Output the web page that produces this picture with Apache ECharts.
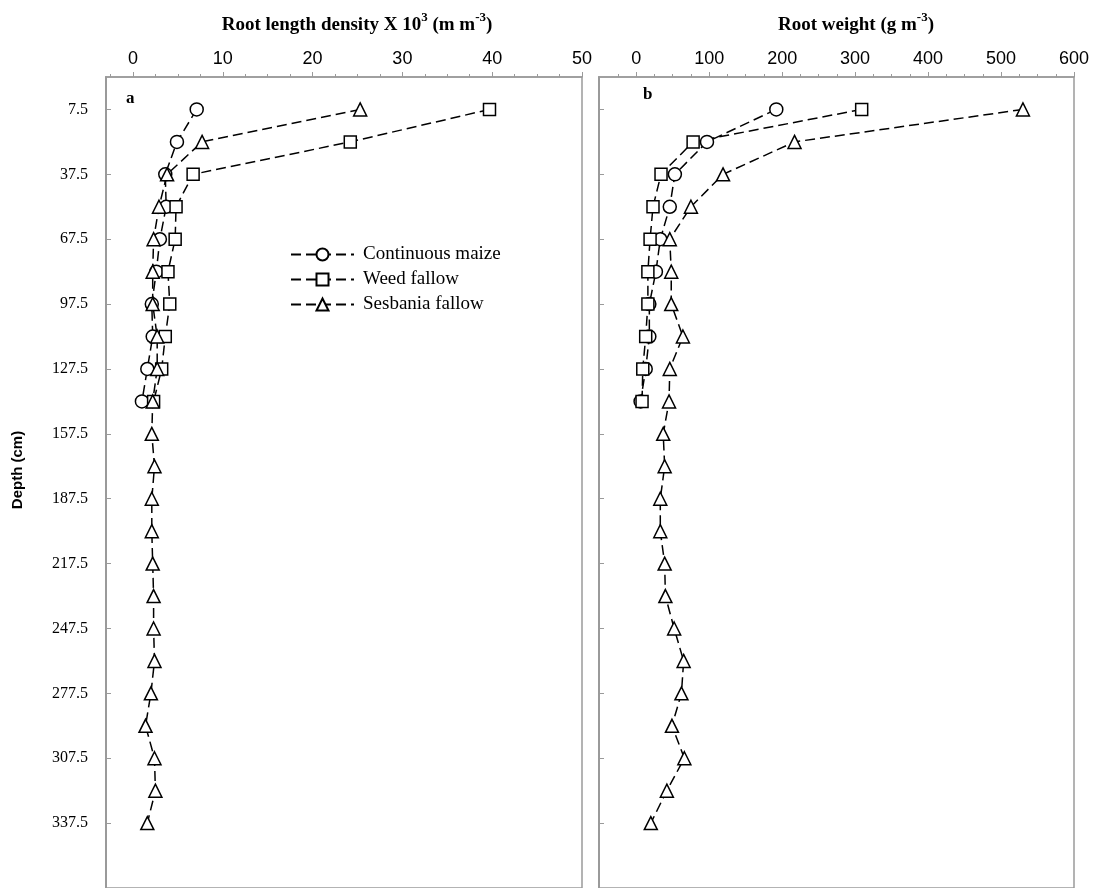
<!DOCTYPE html>
<html>
<head>
<meta charset="utf-8">
<script src="https://cdn.jsdelivr.net/npm/echarts@6/dist/echarts.min.js"></script>
<style>
html,body{margin:0;padding:0;background:#fff;}
#chart{width:1094px;height:888px;}
</style>
</head>
<body>
<div id="chart"></div>
<script>
// Depth categories (cm)
const depths = [7.5, 22.5, 37.5, 52.5, 67.5, 82.5, 97.5, 112.5, 127.5, 142.5, 157.5, 172.5, 187.5, 202.5, 217.5, 232.5, 247.5, 262.5, 277.5, 292.5, 307.5, 322.5, 337.5];
const depthTicks = [7.5, 37.5, 67.5, 97.5, 127.5, 157.5, 187.5, 217.5, 247.5, 277.5, 307.5, 337.5];
const seriesNames = ['Continuous maize', 'Weed fallow', 'Sesbania fallow'];

// Panel a: root length density x10^3 (m m-3)
const rldMaize = [7.1, 4.9, 3.6, 3.7, 3.0, 2.6, 2.1, 2.2, 1.6, 1.0];
const rldWeed = [39.7, 24.2, 6.7, 4.8, 4.7, 3.9, 4.1, 3.6, 3.2, 2.3];
const rldSesbania = [25.3, 7.7, 3.8, 2.9, 2.3, 2.2, 2.2, 2.7, 2.7, 2.2, 2.1, 2.4, 2.1, 2.1, 2.2, 2.3, 2.3, 2.4, 2.0, 1.4, 2.4, 2.5, 1.6];

// Panel b: root weight (g m-3)
const rwMaize = [192, 97, 53, 46, 33, 27, 18, 18, 13, 6];
const rwWeed = [309, 78, 34, 23, 19, 16, 16, 13, 9, 8];
const rwSesbania = [530, 217, 119, 75, 46, 48, 48, 64, 46, 45, 37, 39, 33, 33, 39, 40, 52, 65, 62, 49, 66, 42, 20];

const xTicksA = [0, 10, 20, 30, 40, 50];
const xMinorA = [-2.5, 2.5, 5, 7.5, 12.5, 15, 17.5, 22.5, 25, 27.5, 32.5, 35, 37.5, 42.5, 45, 47.5];
const xTicksB = [0, 100, 200, 300, 400, 500, 600];
const xMinorB = [-25, 25, 50, 75, 125, 150, 175, 225, 250, 275, 325, 350, 375, 425, 450, 475, 525, 550, 575];

const chart = echarts.init(document.getElementById('chart'));
const gray = '#9a9a9a';
const serif = '"Liberation Serif", "Times New Roman", serif';
const sans = '"Liberation Sans", Arial, sans-serif';

function pair(vals) { return vals.map((v, i) => [v, depths[i]]); }

const symbols = ['circle', 'rect', 'triangle'];
const sizes = [13, 12, 13];

function mkSeries(name, idx, vals, axisIdx) {
  return {
    name: name,
    type: 'line',
    xAxisIndex: axisIdx,
    yAxisIndex: axisIdx === 0 ? 0 : 1,
    data: pair(vals),
    symbol: symbols[idx],
    symbolSize: sizes[idx],
    showSymbol: true,
    animation: false,
    lineStyle: { color: '#000', width: 1.5, type: [10, 5] },
    itemStyle: { color: '#fff', borderColor: '#000', borderWidth: 1.5 },
    emphasis: { disabled: true }
  };
}

function xMajor(grid, min, max, ticks) {
  return {
    type: 'value', gridIndex: grid, position: 'top', min: min, max: max,
    axisLine: { show: true, onZero: false, lineStyle: { color: gray, width: 1.5 } },
    axisTick: { show: true, inside: false, length: 5, customValues: ticks, lineStyle: { color: gray } },
    axisLabel: { show: true, customValues: ticks, margin: 9, fontFamily: sans, fontSize: 18, color: '#000' },
    splitLine: { show: false }
  };
}
function xMinor(grid, min, max, ticks) {
  return {
    type: 'value', gridIndex: grid, position: 'top', min: min, max: max,
    axisLine: { show: false, onZero: false },
    axisTick: { show: true, inside: false, length: 3, customValues: ticks, lineStyle: { color: gray } },
    axisLabel: { show: false },
    splitLine: { show: false }
  };
}
function yAxis(grid, labels) {
  return {
    type: 'value', gridIndex: grid, inverse: true, min: -7.5, max: 367.5,
    axisLine: { show: true, onZero: false, lineStyle: { color: gray, width: 2 } },
    axisTick: { show: true, inside: true, length: 5, customValues: depthTicks, lineStyle: { color: gray } },
    axisLabel: { show: labels, customValues: depthTicks, margin: 18, fontFamily: serif, fontSize: 16, color: '#000' },
    splitLine: { show: false }
  };
}

const titleRich = {
  t: { fontFamily: serif, fontWeight: 'bold', fontSize: 19, color: '#000', lineHeight: 24, verticalAlign: 'bottom' },
  s: { fontFamily: serif, fontWeight: 'bold', fontSize: 13, color: '#000', lineHeight: 24, verticalAlign: 'top' }
};

const option = {
  backgroundColor: '#fff',
  animation: false,
  title: [
    {
      text: '{t|Root length density X 10}{s|3}{t| (m m}{s|-3}{t|)}',
      left: 352, top: 6, textAlign: 'center',
      textStyle: { rich: titleRich }
    },
    {
      text: '{t|Root weight (g m}{s|-3}{t|)}',
      left: 851, top: 6, textAlign: 'center',
      textStyle: { rich: titleRich }
    }
  ],
  grid: [
    { left: 106, right: 512, top: 77, bottom: -1.5, show: true, borderColor: gray, borderWidth: 1.5, backgroundColor: 'transparent' },
    { left: 599, right: 20, top: 77, bottom: -1.5, show: true, borderColor: gray, borderWidth: 1.5, backgroundColor: 'transparent' }
  ],
  xAxis: [
    xMajor(0, -3, 50, xTicksA),
    xMajor(1, -51, 600, xTicksB),
    xMinor(0, -3, 50, xMinorA),
    xMinor(1, -51, 600, xMinorB)
  ],
  yAxis: [yAxis(0, true), yAxis(1, false)],
  legend: {
    orient: 'vertical',
    left: 285, top: 240,
    itemWidth: 63, itemHeight: 15, itemGap: 6,
    data: seriesNames,
    textStyle: { fontFamily: serif, fontSize: 19, color: '#000', padding: [0, 0, 0, 4] },
    selectedMode: false
  },
  graphic: [
    { type: 'text', left: 126, top: 90, style: { text: 'a', font: 'bold 17px "Liberation Serif", serif', fill: '#000' } },
    { type: 'text', left: 643, top: 86, style: { text: 'b', font: 'bold 17px "Liberation Serif", serif', fill: '#000' } },
    { type: 'text', x: 18, y: 470, rotation: Math.PI / 2, style: { text: 'Depth (cm)', font: 'bold 15px "Liberation Sans", Arial, sans-serif', fill: '#000', textAlign: 'center', textVerticalAlign: 'middle' } }
  ],
  series: [
    mkSeries(seriesNames[0], 0, rldMaize, 0),
    mkSeries(seriesNames[1], 1, rldWeed, 0),
    mkSeries(seriesNames[2], 2, rldSesbania, 0),
    mkSeries(seriesNames[0], 0, rwMaize, 1),
    mkSeries(seriesNames[1], 1, rwWeed, 1),
    mkSeries(seriesNames[2], 2, rwSesbania, 1)
  ]
};
chart.setOption(option);
</script>
</body>
</html>
